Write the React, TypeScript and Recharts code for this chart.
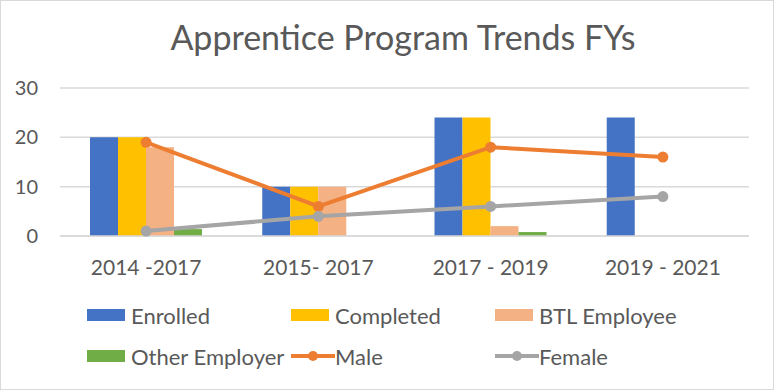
import { ComposedChart, Bar, Line, XAxis, YAxis, CartesianGrid } from "recharts";

const periods = ["2014 -2017", "2015- 2017", "2017 - 2019", "2019 - 2021"];
const enrolled = [20, 10, 24, 24];
const completed = [20, 10, 24, null];
const btlEmployee = [18, 10, 2, null];
const otherEmployer = [1.4, null, 0.8, null];
const male = [19, 6, 18, 16];
const female = [1, 4, 6, 8];
const yTicks = [0, 10, 20, 30];

const data = periods.map((p, i) => ({
  period: p,
  enrolled: enrolled[i],
  completed: completed[i],
  btl: btlEmployee[i],
  other: otherEmployer[i],
  male: male[i],
  female: female[i],
}));

const series = [
  { key: "enrolled", label: "Enrolled", color: "#4472c4", kind: "bar" },
  { key: "completed", label: "Completed", color: "#ffc000", kind: "bar" },
  { key: "btl", label: "BTL Employee", color: "#f4b183", kind: "bar" },
  { key: "other", label: "Other Employer", color: "#70ad47", kind: "bar" },
  { key: "male", label: "Male", color: "#ed7d31", kind: "line" },
  { key: "female", label: "Female", color: "#a5a5a5", kind: "line" },
];

const font = "Lato, 'Open Sans', sans-serif";
const textColor = "#595959";

const LegendIcon = ({ kind, color }: { kind: string; color: string }) =>
  kind === "bar" ? (
    <span style={{ display: "inline-block", width: 38, height: 12, background: color }} />
  ) : (
    <svg width={44} height={12}>
      <line x1={0} y1={6} x2={44} y2={6} stroke={color} strokeWidth={4} />
      <circle cx={22} cy={6} r={5} fill={color} />
    </svg>
  );

export default function App() {
  return (
    <div
      style={{
        position: "absolute",
        left: 0,
        top: 0,
        width: 772,
        height: 388,
        border: "1px solid #d9d9d9",
        background: "#fff",
        fontFamily: font,
        overflow: "hidden",
      }}
    >
      <div
        style={{
          position: "absolute",
          top: 19,
          left: 0,
          width: 804,
          textAlign: "center",
          fontSize: 34,
          lineHeight: "34px",
          color: textColor,
        }}
      >
        Apprentice Program Trends FYs
      </div>
      <div style={{ position: "absolute", left: -1, top: -1 }}>
        <ComposedChart
          width={774}
          height={300}
          data={data}
          margin={{ top: 88, right: 25, left: 0, bottom: 24 }}
          barCategoryGap={30}
          barGap={0}
        >
          <CartesianGrid vertical={false} stroke="#d9d9d9" strokeWidth={1.5} />
          <XAxis
            dataKey="period"
            height={40}
            axisLine={{ stroke: "#d9d9d9", strokeWidth: 1.5 }}
            tickLine={false}
            tickMargin={18}
            tick={{ fontSize: 21, fill: textColor, fontFamily: font }}
          />
          <YAxis
            width={60}
            domain={[0, 30]}
            ticks={yTicks}
            axisLine={false}
            tickLine={false}
            tickMargin={16}
            tick={{ fontSize: 20, fill: textColor, fontFamily: font }}
          />
          {series
            .filter((s) => s.kind === "bar")
            .map((s) => (
              <Bar key={s.key} dataKey={s.key} fill={s.color} isAnimationActive={false} />
            ))}
          {series
            .filter((s) => s.kind === "line")
            .map((s) => (
              <Line
                key={s.key}
                type="linear"
                dataKey={s.key}
                stroke={s.color}
                strokeWidth={4}
                dot={{ r: 5.5, fill: s.color, stroke: s.color, strokeWidth: 0 }}
                isAnimationActive={false}
              />
            ))}
        </ComposedChart>
      </div>
      <div
        style={{
          position: "absolute",
          left: 86,
          top: 300,
          display: "grid",
          gridTemplateColumns: "204px 204px 204px",
          rowGap: 13,
          fontSize: 22,
          color: textColor,
        }}
      >
        {series.map((s) => (
          <div key={s.key} style={{ display: "flex", alignItems: "center", height: 28, gap: s.kind === "bar" ? 6 : 0 }}>
            <LegendIcon kind={s.kind} color={s.color} />
            <span>{s.label}</span>
          </div>
        ))}
      </div>
    </div>
  );
}
